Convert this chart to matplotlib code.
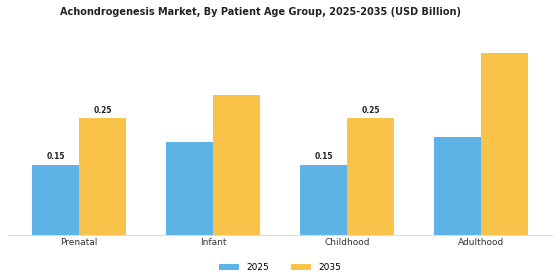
import numpy as np
import matplotlib.pyplot as plt

groups = ['Prenatal', 'Infant', 'Childhood', 'Adulthood']
vals_2025 = [0.15, 0.20, 0.15, 0.21]
vals_2035 = [0.25, 0.30, 0.25, 0.39]
show_labels = [True, False, True, False]

blue = '#5DB3E6'
yellow = '#F9C34A'

fig = plt.figure(figsize=(5.6, 2.8), dpi=100)
ax = fig.add_axes([8/560, 0.161, 544/560, 0.70])

x = np.arange(len(groups))
w = 0.35
b1 = ax.bar(x - w/2, vals_2025, w, color=blue, label='2025')
b2 = ax.bar(x + w/2, vals_2035, w, color=yellow, label='2035')

# value labels only on some groups
for i, show in enumerate(show_labels):
    if show:
        ax.text(x[i] - w/2, vals_2025[i] + 0.008, f'{vals_2025[i]:.2f}', ha='center', va='bottom',
                fontsize=5.5, fontweight='bold', color='#222222')
        ax.text(x[i] + w/2, vals_2035[i] + 0.008, f'{vals_2035[i]:.2f}', ha='center', va='bottom',
                fontsize=5.5, fontweight='bold', color='#222222')

ax.set_xlim(-0.53, 3.53)
ax.set_ylim(0, 0.42)
ax.set_xticks(x)
ax.set_xticklabels(groups, fontsize=6.5, color='#333333')
ax.tick_params(axis='x', length=0, pad=2)
ax.set_yticks([])
for s in ['top', 'right', 'left']:
    ax.spines[s].set_visible(False)
ax.spines['bottom'].set_color('#dddddd')

fig.suptitle('Achondrogenesis Market, By Patient Age Group, 2025-2035 (USD Billion)',
             fontsize=7.0, fontweight='bold', x=0.466, y=0.975, color='#222222')

fig.legend(handles=[b1, b2], loc='lower center', bbox_to_anchor=(0.5, 0.0), ncol=2,
           frameon=False, fontsize=6.5, handlelength=2.2, handleheight=0.6, columnspacing=2.5)

fig.savefig('out.png', dpi=100)
